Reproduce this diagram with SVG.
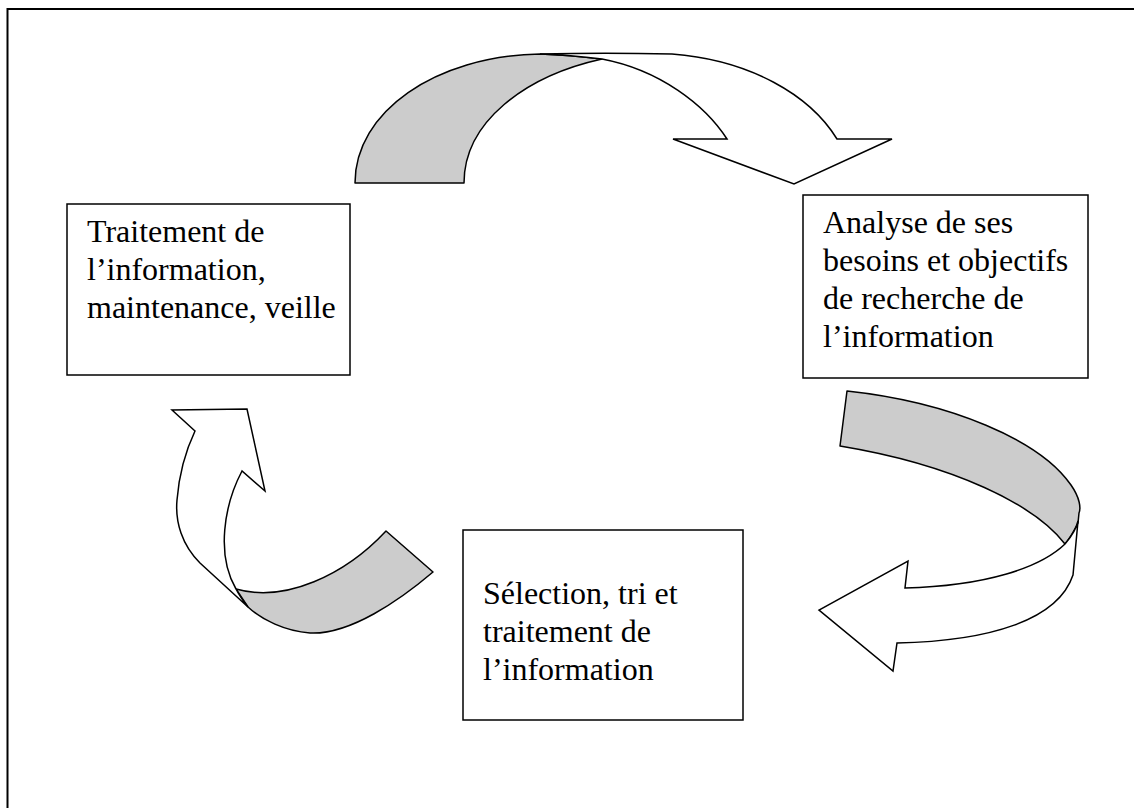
<svg xmlns="http://www.w3.org/2000/svg" width="1134" height="808" viewBox="0 0 1134 808">
  <style>
    .frame { fill: none; stroke: #000; stroke-width: 2; }
    .box { fill: #fff; stroke: #000; stroke-width: 1.5; }
    .label { font-family: "Liberation Serif", "Times New Roman", serif; font-size: 32px; fill: #000; }
    .back { fill: #cccccc; stroke: #000; stroke-width: 1.5; stroke-linejoin: round; }
    .front { fill: #fff; stroke: #000; stroke-width: 1.5; stroke-linejoin: miter; }
  </style>
  <rect width="1134" height="808" fill="#fff"/>

  <!-- page frame (top and left edges) -->
  <path class="frame" d="M7.5,808 V9 H1134"/>

  <!-- curved ribbon arrows: grey back face + white front face with head -->
  <g id="connectors">
    <g id="arrow-top">
      <path class="back" d="M355,183 C355,112 435,56 540,54 Q570,55 602,59 C525,76 464,122 464,183 Z"/>
      <path class="front" d="M540,54 C580,53 630,53 672,54 C750,60 810,95 837,139 L892,139 L794,184 L673,139 L727,139 C705,105 660,70 602,59 Q570,55 540,54 Z"/>
    </g>
    <g id="arrow-right">
      <path class="back" d="M847,391 C950,402 1040,440 1071,485 C1080,498 1081,508 1079,513 L1078,523 C1074,531 1070,538 1065,544 C1035,505 955,465 840,446 Z"/>
      <path class="front" d="M1078,521 L1073,575 C1058,620 990,641 897,643 L893,671 L819,610 L908,561 L905,588 C985,586 1040,568 1065,544 C1071,537 1076,530 1078,521 Z"/>
    </g>
    <g id="arrow-left">
      <path class="back" d="M236,589 C285,603 345,575 386,531 L433,572 C400,600 350,635 310,633 C285,631 262,620 248,607 Z"/>
      <path class="front" d="M195,431 L172,410 L247,409 L265,491 L242,471 C224,505 216,555 236,589 C240,597 244,602 248,607 L200,563 C182,545 175,522 177,500 C179,475 186,450 195,431 Z"/>
    </g>
  </g>

  <!-- process steps -->
  <g id="node-traitement">
    <rect class="box" x="67" y="204" width="283" height="171"/>
    <text class="label" x="87" y="242">Traitement de</text>
    <text class="label" x="87" y="280">l’information,</text>
    <text class="label" x="87" y="318">maintenance, veille</text>
  </g>

  <g id="node-analyse">
    <rect class="box" x="803" y="195" width="285" height="183"/>
    <text class="label" x="823" y="233">Analyse de ses</text>
    <text class="label" x="823" y="271">besoins et objectifs</text>
    <text class="label" x="823" y="309">de recherche de</text>
    <text class="label" x="823" y="347">l’information</text>
  </g>

  <g id="node-selection">
    <rect class="box" x="463" y="530" width="280" height="190"/>
    <text class="label" x="483" y="604">Sélection, tri et</text>
    <text class="label" x="483" y="642">traitement de</text>
    <text class="label" x="483" y="680">l’information</text>
  </g>
</svg>
